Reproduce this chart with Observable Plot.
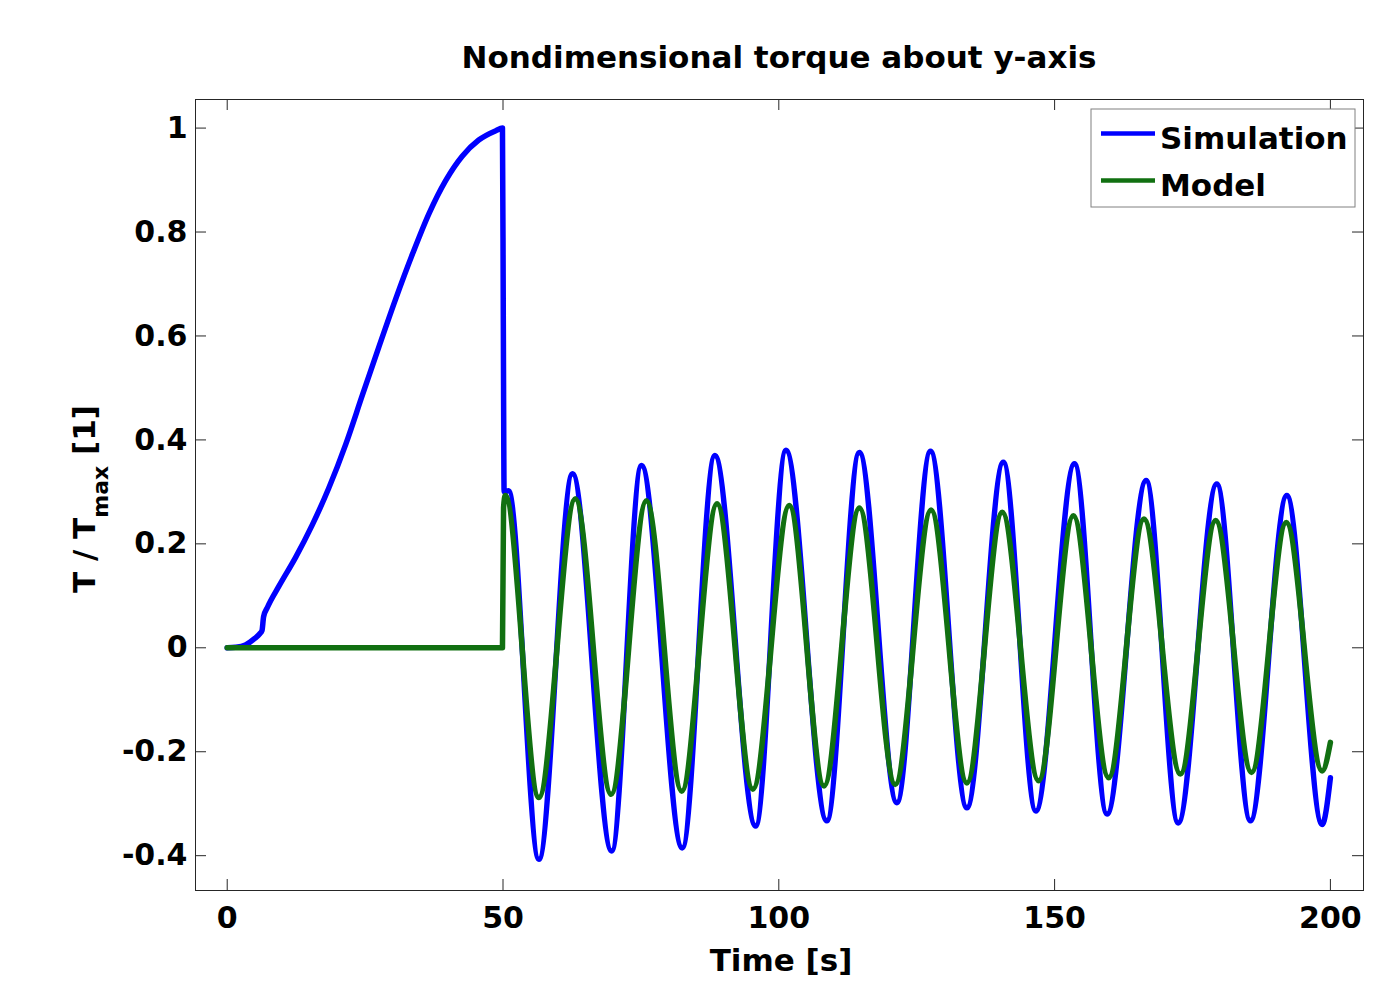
<!DOCTYPE html>
<html><head><meta charset="utf-8">
<script src="https://cdn.jsdelivr.net/npm/d3@7"></script>
<script src="https://cdn.jsdelivr.net/npm/@observablehq/plot@0.6"></script>
<style>
html,body{margin:0;padding:0;background:#fff;}
#chart{width:1400px;height:982px;}
</style></head><body><div id="chart"></div>
<script>
// ---- data ----
const seriesNames = ["Simulation", "Model"];
const seriesColors = ["#0000ff", "#117011"];
const titleText = "Nondimensional torque about y-axis";
const xLabelText = "Time [s]";
const xTicks = [0, 50, 100, 150, 200];
const yTicks = [-0.4, -0.2, 0, 0.2, 0.4, 0.6, 0.8, 1];

const simTime = [0, 1.5, 3.3, 5.0, 5.9, 6.3, 6.6, 7.3, 9.4, 12.4, 15.4, 18.4, 21.5, 24.5, 27.5, 30.5, 33.6, 36.6, 39.6, 42.6, 45.6, 48.7, 49.9, 50.05, 50.2,
  51.0, 56.5, 62.6, 69.7, 75.1, 82.5, 88.4, 95.8, 101.3, 108.7, 114.6, 121.4, 127.5, 134.1, 140.7, 146.6, 153.6, 159.5, 166.6, 172.4, 179.4, 185.5, 192.1, 198.5, 200];
const simValue = [0, 0.001, 0.0055, 0.018, 0.027, 0.033, 0.060, 0.078, 0.119, 0.174, 0.236, 0.307, 0.392, 0.486, 0.579, 0.670, 0.758, 0.836, 0.899, 0.946, 0.977, 0.995, 1.0, 0.64, 0.30,
  0.302, -0.407, 0.335, -0.391, 0.351, -0.385, 0.370, -0.343, 0.380, -0.333, 0.376, -0.298, 0.378, -0.308, 0.357, -0.314, 0.354, -0.320, 0.322, -0.337, 0.315, -0.333, 0.293, -0.340, -0.25];

const modelTime = [0, 49.9, 50.1, 50.4, 56.5, 63.1, 69.6, 76.0, 82.4, 88.8, 95.3, 101.9, 108.2, 114.6, 121.1, 127.6, 134.1, 140.5, 147.1, 153.4, 159.8, 166.2, 172.8, 179.2, 185.7, 192.0, 198.5, 200];
const modelValue = [0, 0, 0.27, 0.293, -0.288, 0.287, -0.282, 0.283, -0.276, 0.277, -0.272, 0.274, -0.266, 0.269, -0.263, 0.265, -0.260, 0.261, -0.256, 0.254, -0.250, 0.248, -0.243, 0.245, -0.240, 0.241, -0.237, -0.182];

// ---- build table ----
const rows = [];
simTime.forEach((t, i) => rows.push({series: seriesNames[0], t, v: simValue[i]}));
modelTime.forEach((t, i) => rows.push({series: seriesNames[1], t, v: modelValue[i]}));

const W = 1400, H = 982;
const mL = 195, mR = 37, mT = 99, mB = 92;
const frameW = W - mL - mR, frameH = H - mT - mB;
const tickLen = 11;
const ink = "#262626";
const font = "'DejaVu Sans', sans-serif";

const plot = Plot.plot({
  width: W, height: H,
  marginLeft: mL, marginRight: mR, marginTop: mT, marginBottom: mB,
  style: {fontFamily: font, fontWeight: "bold", background: "white", color: "black", overflow: "visible"},
  x: {domain: [-5.75, 206], label: null},
  y: {domain: [-0.467, 1.055], label: null},
  color: {domain: seriesNames, range: seriesColors},
  marks: [
    Plot.line(rows, {x: "t", y: "v", z: "series", stroke: "series", strokeWidth: 5.5, curve: "monotone-x", strokeLinejoin: "round"}),
    Plot.ruleX(xTicks, {insetTop: frameH - tickLen, stroke: ink}),
    Plot.ruleX(xTicks, {insetBottom: frameH - tickLen, stroke: ink}),
    Plot.ruleY(yTicks, {insetRight: frameW - tickLen, stroke: ink}),
    Plot.ruleY(yTicks, {insetLeft: frameW - tickLen, stroke: ink}),
    Plot.frame({stroke: ink}),
    Plot.axisX({ticks: xTicks, tickSize: 0, tickPadding: 16, fontSize: 30, tickFormat: d => String(d), label: null}),
    Plot.axisY({ticks: yTicks, tickSize: 0, tickPadding: 8, fontSize: 30, tickFormat: d => String(d), label: null})
  ]
});
document.getElementById("chart").appendChild(plot);

const svg = d3.select(plot);
const cx = (mL + W - mR) / 2;

// title
svg.append("text").attr("x", cx).attr("y", 68).attr("text-anchor", "middle")
  .attr("font-family", font).attr("font-weight", "bold").attr("font-size", 31).attr("fill", "black").text(titleText);
// x label
svg.append("text").attr("x", cx + 2).attr("y", 971).attr("text-anchor", "middle")
  .attr("font-family", font).attr("font-weight", "bold").attr("font-size", 31).attr("fill", "black").text(xLabelText);
// y label with subscript
const yl = svg.append("text").attr("transform", "translate(95,499) rotate(-90)").attr("text-anchor", "middle")
  .attr("font-family", font).attr("font-weight", "bold").attr("font-size", 31).attr("fill", "black");
yl.append("tspan").text("T / T");
yl.append("tspan").attr("font-size", 22).attr("dy", 13).text("max");
yl.append("tspan").attr("dy", -13).text(" [1]");

// legend
const lg = svg.append("g");
lg.append("rect").attr("x", 1091).attr("y", 109).attr("width", 264).attr("height", 98)
  .attr("fill", "white").attr("stroke", "#808080").attr("stroke-width", 1);
seriesNames.forEach((name, i) => {
  const yy = 133.5 + i * 47;
  lg.append("line").attr("x1", 1101).attr("x2", 1155).attr("y1", yy).attr("y2", yy)
    .attr("stroke", seriesColors[i]).attr("stroke-width", 4.5);
  lg.append("text").attr("x", 1160).attr("y", yy + 15).attr("text-anchor", "start")
    .attr("font-family", font).attr("font-weight", "bold")
    .attr("font-size", 31).attr("fill", "black").text(name);
});
</script>
</body></html>
